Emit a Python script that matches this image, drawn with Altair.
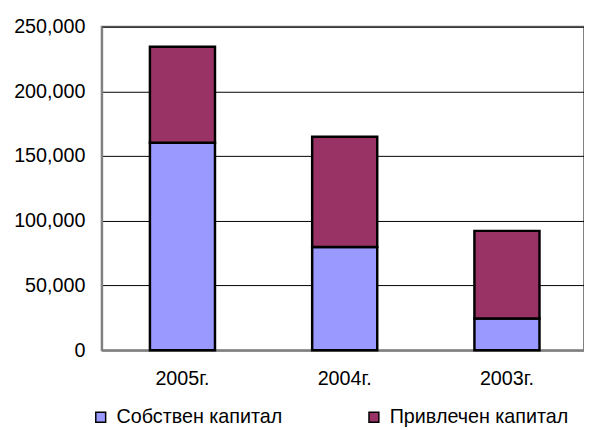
import altair as alt
import pandas as pd

years = ["2005г.", "2004г.", "2003г."]
own = [160300, 79800, 24400]
borrowed = [74200, 85100, 67800]
series = ["Собствен капитал", "Привлечен капитал"]
colors = ["#9999FF", "#993366"]

rows = []
for i, y in enumerate(years):
    rows.append({"year": y, "series": series[0], "value": own[i], "ord": 0})
    rows.append({"year": y, "series": series[1], "value": borrowed[i], "ord": 1})
df = pd.DataFrame(rows)

FONT = "Liberation Sans"

chart = alt.Chart(df).mark_bar(stroke="black", strokeWidth=2.5).encode(
    x=alt.X("year:N", sort=years, title=None,
            scale=alt.Scale(paddingInner=0.599, paddingOuter=0.2858, align=0.52),
            axis=alt.Axis(labelAngle=0, ticks=False, labelPadding=19,
                          domainColor="#808080", domainWidth=2, grid=False)),
    y=alt.Y("value:Q", stack="zero", title=None,
            scale=alt.Scale(domain=[0, 250000], nice=False),
            axis=alt.Axis(values=[0, 50000, 100000, 150000, 200000, 250000],
                          format=",.0f", ticks=False, labelPadding=17,
                          domainColor="#808080", domainWidth=2,
                          gridColor="black", gridWidth=1)),
    color=alt.Color("series:N", sort=series,
                    scale=alt.Scale(domain=series, range=colors),
                    legend=alt.Legend(title=None, orient="none", direction="horizontal",
                                      legendX=-11, legendY=386,
                                      symbolType="square", symbolSize=100,
                                      symbolStrokeColor="black", symbolStrokeWidth=1.5,
                                      symbolOpacity=1,
                                      columnPadding=82, labelOffset=6)),
    order=alt.Order("ord:Q"),
).properties(
    width=489, height=328,
    autosize=alt.AutoSizeParams(type="none"),
    padding={"left": 95, "top": 16, "right": 0, "bottom": 78},
).configure_view(
    stroke="#808080", strokeWidth=2
).configure_axis(
    labelFont=FONT, labelFontSize=20, labelColor="black"
).configure_legend(
    labelFont=FONT, labelFontSize=20, labelColor="black", labelLimit=400
)

chart.save("out.html", embed_options={"renderer": "svg", "actions": False})
